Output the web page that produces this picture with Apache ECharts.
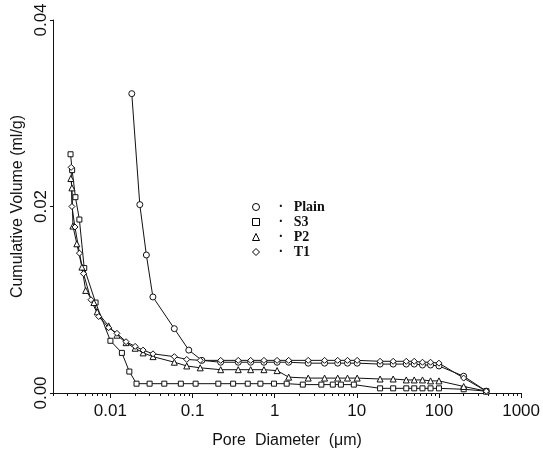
<!DOCTYPE html>
<html><head><meta charset="utf-8">
<script src="https://cdn.jsdelivr.net/npm/echarts@6/dist/echarts.min.js"></script>
<style>html,body{margin:0;padding:0;background:#fff}#c{width:543px;height:456px}</style>
</head><body><div id="c"></div>
<script>
const seriesNames = ['Plain', 'S3', 'P2', 'T1'];
const xTickLabels = ['0.01', '0.1', '1', '10', '100', '1000'];
const yTickLabels = ['0.00', '0.02', '0.04'];

const plain = [[0.0182,0.0321],[0.0228,0.0202],[0.0274,0.0148],[0.0329,0.0103],[0.060,0.0069],[0.090,0.0046],[0.13,0.0035],[0.22,0.0033],[0.36,0.0033],[0.51,0.0033],[0.74,0.0033],[1.07,0.0033],[1.48,0.0033],[2.56,0.0032],[4.05,0.0032],[5.85,0.0032],[7.7,0.0032],[10.1,0.0032],[19.2,0.0031],[27.7,0.0031],[40,0.0031],[50,0.0031],[63,0.0030],[79,0.0030],[100,0.0029],[200,0.0018],[377,0.0002]];
const s3 = [[0.00327,0.0256],[0.00342,0.0239],[0.00375,0.0210],[0.00419,0.0186],[0.0048,0.0134],[0.0066,0.0097],[0.0100,0.0056],[0.0138,0.0043],[0.0170,0.0023],[0.0208,0.0010],[0.030,0.0010],[0.0453,0.0010],[0.072,0.0010],[0.109,0.0010],[0.206,0.0010],[0.312,0.0010],[0.47,0.0010],[0.67,0.0010],[0.98,0.0010],[1.4,0.0010],[2.2,0.0009],[3.7,0.0009],[5.1,0.0009],[6.4,0.0009],[9.2,0.0009],[19.2,0.0005],[27.7,0.0005],[40,0.0005],[50,0.0005],[63,0.0005],[79,0.0005],[100,0.0005],[200,0.0004],[377,0.0002]];
const p2 = [[0.0033,0.0230],[0.0034,0.0220],[0.0035,0.0179],[0.0039,0.0160],[0.0045,0.0135],[0.0050,0.0110],[0.0063,0.0097],[0.0069,0.0087],[0.0095,0.0072],[0.012,0.0062],[0.0155,0.0054],[0.020,0.0048],[0.025,0.0043],[0.033,0.0039],[0.060,0.0033],[0.085,0.0029],[0.124,0.0027],[0.22,0.0025],[0.36,0.0025],[0.51,0.0025],[0.74,0.0025],[1.07,0.0024],[1.48,0.0017],[2.56,0.0016],[4.05,0.0016],[5.85,0.0016],[7.7,0.0016],[10.1,0.0016],[19.2,0.0015],[27.7,0.0015],[40,0.0014],[50,0.0014],[63,0.0014],[79,0.0013],[100,0.0013],[200,0.0007],[377,0.0002]];
const t1 = [[0.00333,0.0242],[0.0034,0.0200],[0.0037,0.0178],[0.0042,0.0150],[0.0047,0.0128],[0.0058,0.0100],[0.0072,0.0082],[0.0095,0.0070],[0.012,0.0064],[0.0155,0.0055],[0.020,0.0050],[0.025,0.0046],[0.033,0.0042],[0.060,0.0039],[0.085,0.0036],[0.124,0.0035],[0.22,0.0035],[0.36,0.0035],[0.51,0.0035],[0.74,0.0035],[1.07,0.0035],[1.48,0.0035],[2.56,0.0035],[4.05,0.0035],[5.85,0.0035],[7.7,0.0035],[10.1,0.0035],[19.2,0.0034],[27.7,0.0034],[40,0.0034],[50,0.0034],[63,0.0033],[79,0.0033],[100,0.0032],[200,0.0016],[377,0.0002]];
const minorTicks = [0.002,0.003,0.004,0.005,0.006,0.007,0.008,0.009,0.02,0.03,0.04,0.05,0.06,0.07,0.08,0.09,0.2,0.3,0.4,0.5,0.6,0.7,0.8,0.9,2,3,4,5,6,7,8,9,20,30,40,50,60,70,80,90,200,300,400,500,600,700,800,900];

const dataSets = [plain, s3, p2, t1];
const symbols = ['circle', 'rect', 'triangle', 'diamond'];
const sizes = [6, 5, 6, 6];

const chart = echarts.init(document.getElementById('c'), null, {renderer: 'canvas'});
const majorVals = xTickLabels.map(Number);
const axFont = {fontFamily: 'Liberation Sans', fontSize: 17, color: '#111'};
chart.setOption({
  animation: false,
  backgroundColor: '#fff',
  grid: {left: 53, right: 20, top: 20, bottom: 63},
  legend: {
    orient: 'vertical', left: 247, top: 195,
    itemWidth: 7, itemHeight: 7, itemGap: 1,
    data: seriesNames.map((n, i) => ({name: n, icon: symbols[i]})),
    itemStyle: {color: '#fff', borderColor: '#000', borderWidth: 1},
    formatter: n => '    \u00b7   ' + n,
    textStyle: {fontFamily: 'Liberation Serif', fontSize: 14, fontWeight: 'bold', color: '#111', lineHeight: 14},
    selectedMode: false
  },
  xAxis: [{
    type: 'log', logBase: 10, min: 0.002, max: 1000,
    name: 'Pore  Diameter  (\u03bcm)', nameLocation: 'middle', nameGap: 40,
    nameTextStyle: Object.assign({}, axFont, {fontSize: 16}),
    axisLine: {lineStyle: {color: '#111', width: 1}},
    axisTick: {show: true, length: 5, lineStyle: {color: '#111'}, customValues: majorVals},
    axisLabel: Object.assign({margin: 10, customValues: majorVals, formatter: v => {
      const i = majorVals.findIndex(m => Math.abs(Math.log10(m) - Math.log10(v)) < 1e-6);
      return i >= 0 ? xTickLabels[i] : '';
    }}, axFont),
    splitLine: {show: false}
  }, {
    type: 'log', logBase: 10, min: 0.002, max: 1000, position: 'bottom',
    axisLine: {show: false},
    axisTick: {show: true, length: 3, lineStyle: {color: '#111'}, customValues: minorTicks},
    axisLabel: {show: false},
    splitLine: {show: false}
  }],
  yAxis: {
    type: 'value', min: 0, max: 0.04, interval: 0.02,
    name: 'Cumulative Volume (ml/g)', nameLocation: 'middle', nameGap: 18, nameRotate: 90,
    nameTextStyle: Object.assign({}, axFont, {fontSize: 16}),
    axisLine: {show: true, lineStyle: {color: '#111', width: 1}},
    axisTick: {show: true, length: 3, lineStyle: {color: '#111'}},
    axisLabel: Object.assign({rotate: 90, margin: 3, formatter: v => yTickLabels[Math.round(v / 0.02)]}, axFont),
    splitLine: {show: false}
  },
  series: seriesNames.map((n, i) => ({
    name: n, type: 'line', data: dataSets[i],
    symbol: symbols[i], symbolSize: sizes[i], showAllSymbols: true,
    lineStyle: {color: '#111', width: 1},
    itemStyle: {color: '#fff', borderColor: '#111', borderWidth: 1}
  }))
});
</script></body></html>
